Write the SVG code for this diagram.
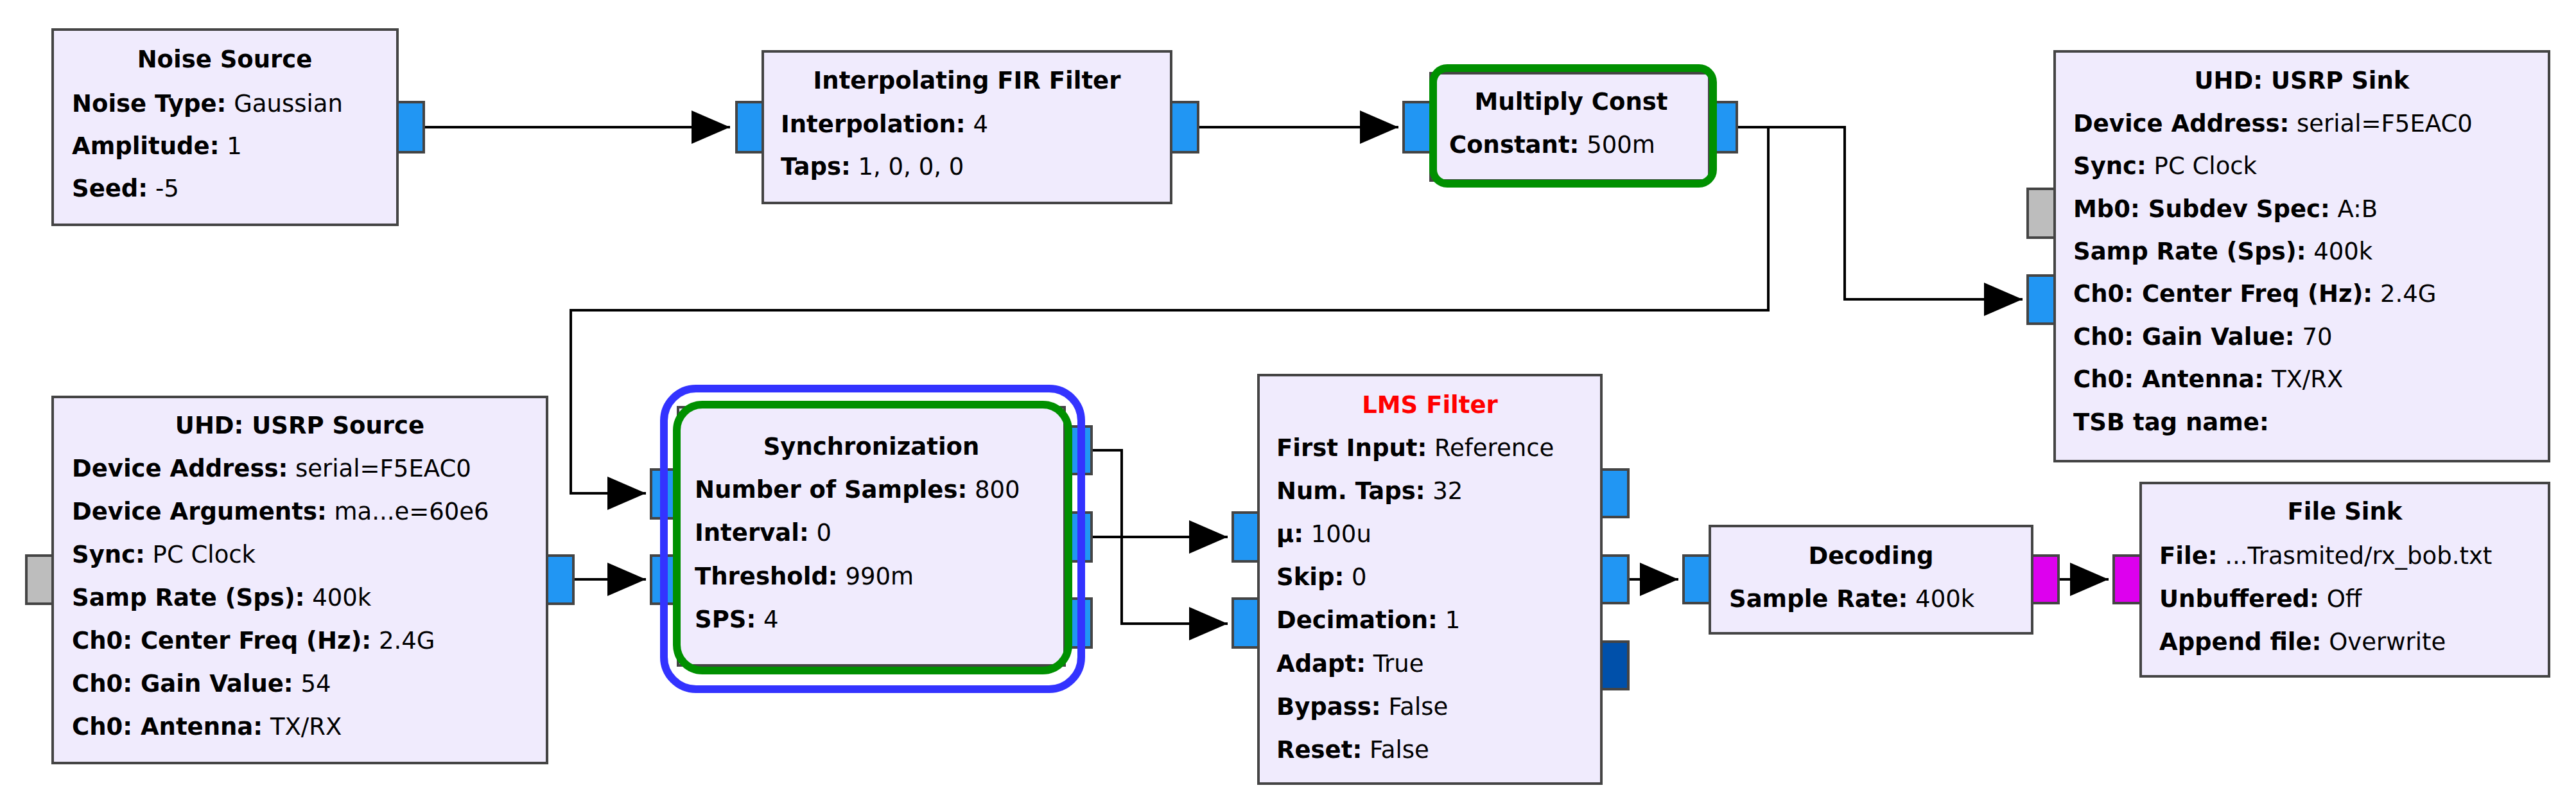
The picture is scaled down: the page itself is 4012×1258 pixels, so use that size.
<svg xmlns="http://www.w3.org/2000/svg" width="4012" height="1258" viewBox="0 0 4012 1258">
<style>
.blk{fill:#F0EBFD;stroke:#444;stroke-width:4}
.p{fill:#2196F3;stroke:#444;stroke-width:4}
.pg{fill:#BDBDBD;stroke:#444;stroke-width:4}
.pm{fill:#DD00EE;stroke:#444;stroke-width:4}
.pd{fill:#0050AA;stroke:#444;stroke-width:4}
text{font-family:"DejaVu Sans","Liberation Sans",sans-serif;font-size:37px;fill:#000}
.t{font-weight:bold;text-anchor:middle}
.b{font-weight:bold}
.w{stroke:#000;stroke-width:4;fill:none}
.hg{fill:none;stroke:#009000;stroke-width:12}
.hb{fill:none;stroke:#3333FF;stroke-width:12}
</style>
<defs><marker id="a" markerUnits="userSpaceOnUse" markerWidth="62" markerHeight="52" refX="60" refY="26" orient="auto"><path d="M0,0 L60,26 L0,52 z" fill="#000"/></marker></defs>
<g id="connectors">
<polyline class="w" points="660,198 1137,198" marker-end="url(#a)"/>
<polyline class="w" points="1866,198 2178,198" marker-end="url(#a)"/>
<polyline class="w" points="2705,198 2873,198 2873,466 3150,466" marker-end="url(#a)"/>
<polyline class="w" points="2754,198 2754,483 889,483 889,768 1006,768" marker-end="url(#a)"/>
<polyline class="w" points="893,902 1006,902" marker-end="url(#a)"/>
<polyline class="w" points="1700,701 1747,701 1747,971 1912,971" marker-end="url(#a)"/>
<polyline class="w" points="1700,836 1912,836" marker-end="url(#a)"/>
<polyline class="w" points="2536,902 2614,902" marker-end="url(#a)"/>
<polyline class="w" points="3206,902 3284,902" marker-end="url(#a)"/>
</g>
<g id="noise">
<rect class="p" x="619" y="159" width="41" height="78"/>
<rect class="blk" x="82" y="46" width="537" height="304"/>
<text class="t" x="350" y="105">Noise Source</text>
<text x="112" y="174"><tspan class="b">Noise Type:</tspan> Gaussian</text>
<text x="112" y="240"><tspan class="b">Amplitude:</tspan> 1</text>
<text x="112" y="306"><tspan class="b">Seed:</tspan> -5</text>
</g>
<g id="interp">
<rect class="p" x="1147" y="159" width="41" height="78"/>
<rect class="p" x="1824" y="159" width="42" height="78"/>
<rect class="blk" x="1188" y="80" width="636" height="236"/>
<text class="t" x="1506" y="138">Interpolating FIR Filter</text>
<text x="1216" y="206"><tspan class="b">Interpolation:</tspan> 4</text>
<text x="1216" y="272"><tspan class="b">Taps:</tspan> 1, 0, 0, 0</text>
</g>
<g id="mult">
<rect class="p" x="2186" y="159" width="42" height="78"/>
<rect class="p" x="2662" y="159" width="43" height="78"/>
<rect class="blk" x="2228" y="114" width="434" height="167"/>
<rect class="hg" x="2232" y="106" width="436" height="180" rx="22"/>
<text class="t" x="2447" y="171">Multiply Const</text>
<text x="2257" y="238"><tspan class="b">Constant:</tspan> 500m</text>
</g>
<g id="sink">
<rect class="pg" x="3158" y="294" width="42" height="76"/>
<rect class="p" x="3158" y="429" width="42" height="75"/>
<rect class="blk" x="3200" y="80" width="770" height="638"/>
<text class="t" x="3585" y="138">UHD: USRP Sink</text>
<text x="3229" y="205"><tspan class="b">Device Address:</tspan> serial=F5EAC0</text>
<text x="3229" y="271"><tspan class="b">Sync:</tspan> PC Clock</text>
<text x="3229" y="338"><tspan class="b">Mb0: Subdev Spec:</tspan> A:B</text>
<text x="3229" y="404"><tspan class="b">Samp Rate (Sps):</tspan> 400k</text>
<text x="3229" y="470"><tspan class="b">Ch0: Center Freq (Hz):</tspan> 2.4G</text>
<text x="3229" y="537"><tspan class="b">Ch0: Gain Value:</tspan> 70</text>
<text x="3229" y="603"><tspan class="b">Ch0: Antenna:</tspan> TX/RX</text>
<text x="3229" y="670"><tspan class="b">TSB tag name:</tspan></text>
</g>
<g id="source">
<rect class="pg" x="41" y="865" width="41" height="75"/>
<rect class="p" x="852" y="865" width="41" height="75"/>
<rect class="blk" x="82" y="618" width="770" height="570"/>
<text class="t" x="467" y="675">UHD: USRP Source</text>
<text x="112" y="742"><tspan class="b">Device Address:</tspan> serial=F5EAC0</text>
<text x="112" y="809"><tspan class="b">Device Arguments:</tspan> ma...e=60e6</text>
<text x="112" y="876"><tspan class="b">Sync:</tspan> PC Clock</text>
<text x="112" y="943"><tspan class="b">Samp Rate (Sps):</tspan> 400k</text>
<text x="112" y="1010"><tspan class="b">Ch0: Center Freq (Hz):</tspan> 2.4G</text>
<text x="112" y="1077"><tspan class="b">Ch0: Gain Value:</tspan> 54</text>
<text x="112" y="1144"><tspan class="b">Ch0: Antenna:</tspan> TX/RX</text>
</g>
<g id="sync">
<rect class="p" x="1014" y="731" width="42" height="76"/>
<rect class="p" x="1014" y="865" width="42" height="75"/>
<rect class="p" x="1658" y="664" width="42" height="74"/>
<rect class="p" x="1658" y="798" width="42" height="76"/>
<rect class="p" x="1658" y="932" width="42" height="76"/>
<rect class="blk" x="1056" y="634" width="602" height="402"/>
<rect class="hg" x="1054" y="630" width="610" height="414" rx="40"/>
<rect class="hb" x="1034" y="605" width="650" height="468" rx="50"/>
<text class="t" x="1357" y="708">Synchronization</text>
<text x="1082" y="775"><tspan class="b">Number of Samples:</tspan> 800</text>
<text x="1082" y="842"><tspan class="b">Interval:</tspan> 0</text>
<text x="1082" y="910"><tspan class="b">Threshold:</tspan> 990m</text>
<text x="1082" y="977"><tspan class="b">SPS:</tspan> 4</text>
</g>
<g id="lms">
<rect class="p" x="1920" y="798" width="40" height="76"/>
<rect class="p" x="1920" y="932" width="40" height="76"/>
<rect class="p" x="2494" y="731" width="42" height="74"/>
<rect class="p" x="2494" y="865" width="42" height="74"/>
<rect class="pd" x="2494" y="999" width="42" height="74"/>
<rect class="blk" x="1960" y="584" width="534" height="636"/>
<text class="t" x="2227" y="643" fill="#FF0000" style="fill:#FF0000">LMS Filter</text>
<text x="1988" y="710"><tspan class="b">First Input:</tspan> Reference</text>
<text x="1988" y="777"><tspan class="b">Num. Taps:</tspan> 32</text>
<text x="1988" y="844"><tspan class="b">µ:</tspan> 100u</text>
<text x="1988" y="911"><tspan class="b">Skip:</tspan> 0</text>
<text x="1988" y="978"><tspan class="b">Decimation:</tspan> 1</text>
<text x="1988" y="1046"><tspan class="b">Adapt:</tspan> True</text>
<text x="1988" y="1113"><tspan class="b">Bypass:</tspan> False</text>
<text x="1988" y="1180"><tspan class="b">Reset:</tspan> False</text>
</g>
<g id="decoding">
<rect class="p" x="2622" y="865" width="41" height="74"/>
<rect class="pm" x="3165" y="865" width="41" height="74"/>
<rect class="blk" x="2663" y="819" width="502" height="167"/>
<text class="t" x="2914" y="878">Decoding</text>
<text x="2693" y="945"><tspan class="b">Sample Rate:</tspan> 400k</text>
</g>
<g id="filesink">
<rect class="pm" x="3292" y="865" width="42" height="74"/>
<rect class="blk" x="3334" y="752" width="636" height="301"/>
<text class="t" x="3652" y="809">File Sink</text>
<text x="3363" y="878"><tspan class="b">File:</tspan> ...Trasmited/rx_bob.txt</text>
<text x="3363" y="945"><tspan class="b">Unbuffered:</tspan> Off</text>
<text x="3363" y="1012"><tspan class="b">Append file:</tspan> Overwrite</text>
</g>
</svg>
